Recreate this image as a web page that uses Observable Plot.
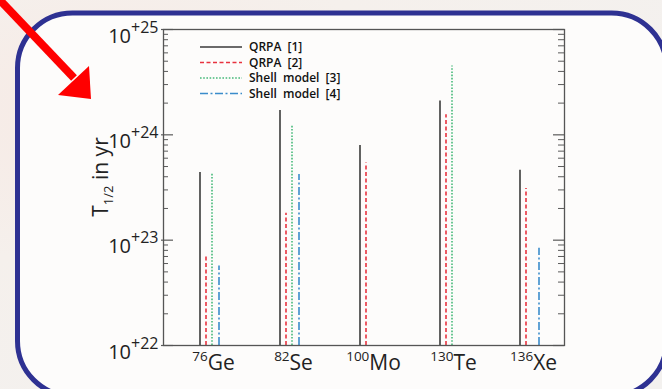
<!DOCTYPE html>
<html>
<head>
<meta charset="utf-8">
<script src="https://cdn.jsdelivr.net/npm/d3@7"></script>
<script src="https://cdn.jsdelivr.net/npm/@observablehq/plot@0.6"></script>
<style>
  html, body { margin: 0; padding: 0; background: #f4efea; }
  #wrap { position: relative; width: 662px; height: 389px; overflow: hidden;
          background: radial-gradient(ellipse at 20% 30%, #f7e9e4 0%, #f5f0ec 40%, #f3f1ef 100%); }
  #deco, #arrow { position: absolute; left: 0; top: 0; }
  #chart { position: absolute; left: 0; top: 0; }
  #chart svg { display: block; }
</style>
</head>
<body>
<div id="wrap">
  <svg id="deco" width="662" height="389">
    <rect x="17.5" y="13" width="649" height="383" rx="55" ry="55" fill="#fdfcfb" stroke="#2e3192" stroke-width="5"></rect>
  </svg>
  <div id="chart"></div>
  <svg id="arrow" width="662" height="389">
    <line x1="-4" y1="-4" x2="74" y2="78" stroke="#ff0000" stroke-width="8"></line>
    <polygon points="91,99 58,95 89,66" fill="#ff0000"></polygon>
  </svg>
</div>
<script>
// ---- data ----
const nuclei = ["76Ge", "82Se", "100Mo", "130Te", "136Xe"];
const seriesNames = ["QRPA [1]", "QRPA [2]", "Shell model [3]", "Shell model [4]"];
const qrpa1  = [4.4e23, 1.7e24, 7.9e23, 2.1e24, 4.6e23];
const qrpa2  = [7.3e22, 1.8e23, 5.4e23, 1.55e24, 3.1e23];
const shell3 = [4.3e23, 1.23e24, null, 4.5e24, null];
const shell4 = [5.7e22, 4.2e23, null, null, 8.4e22];
const yTickExponents = [22, 23, 24, 25];
const yTitle = ["T", "1/2", " in yr"];

// ---- styles ----
const seriesStyles = [
  {stroke: "#3a3a3a", dash: null,       dx: -9.5},
  {stroke: "#e8323f", dash: "4,2.5",    dx: -3.5},
  {stroke: "#46b97a", dash: "1.6,1.6",  dx: 2.5},
  {stroke: "#3b8ccb", dash: "8,2.5,2,2.5", dx: 9.5}
];

const W = 662, H = 389;
const mL = 163, mR = 98, mT = 29, mB = 44;
const plotW = W - mL - mR;

const allSeries = [qrpa1, qrpa2, shell3, shell4];
const table = allSeries.flatMap((vals, j) =>
  vals.map((v, i) => ({nucleus: nuclei[i], series: seriesNames[j], value: v}))
).filter(d => d.value != null);

const yDomain = [10 ** yTickExponents[0], 10 ** yTickExponents[yTickExponents.length - 1]];
const baseline = yDomain[0];
const majorVals = yTickExponents.map(e => 10 ** e);
const minorVals = yTickExponents.slice(0, -1).flatMap(e => d3.range(2, 10).map(k => k * 10 ** e));

const tickStroke = "#5a5a5a";

const chart = Plot.plot({
  width: W,
  height: H,
  marginLeft: mL,
  marginRight: mR,
  marginTop: mT,
  marginBottom: mB,
  style: {fontFamily: "'Open Sans', sans-serif", background: "transparent", color: "#222"},
  x: {type: "point", domain: nuclei, padding: 0.4907, align: 0.563, axis: null},
  y: {type: "log", domain: yDomain, axis: null},
  marks: [
    ...seriesStyles.map((st, j) =>
      Plot.ruleX(table.filter(d => d.series === seriesNames[j]), {
        x: "nucleus", y1: () => baseline, y2: "value", dx: st.dx,
        stroke: st.stroke, strokeWidth: 1.6, strokeDasharray: st.dash
      })
    ),
    Plot.ruleY(majorVals, {y: d => d, insetLeft: -2, insetRight: plotW - 10, stroke: tickStroke, strokeWidth: 1.2}),
    Plot.ruleY(majorVals, {y: d => d, insetLeft: plotW - 11, insetRight: 0, stroke: tickStroke, strokeWidth: 1.2}),
    Plot.ruleY(minorVals, {y: d => d, insetLeft: 0, insetRight: plotW - 5, stroke: tickStroke, strokeWidth: 1}),
    Plot.ruleY(minorVals, {y: d => d, insetLeft: plotW - 6, insetRight: 0, stroke: tickStroke, strokeWidth: 1}),
    Plot.frame({stroke: "#555", strokeWidth: 1.3}),
    Plot.text(yTickExponents, {y: e => 10 ** e, frameAnchor: "left", textAnchor: "end", dx: -5,
      text: e => "10+" + e, fontSize: 20, fill: "#222"}),
    Plot.text(nuclei, {x: d => d, frameAnchor: "bottom", dx: 4, text: d => d, fontSize: 21, fill: "#222"})
  ]
});

document.getElementById("chart").appendChild(chart);

const svg = d3.select(chart.tagName.toLowerCase() === "svg" ? chart : chart.querySelector("svg"));
svg.selectAll("text").each(function () {
  const t = this.textContent;
  const sel = d3.select(this);
  let m;
  if ((m = /^10\+(\d+)$/.exec(t))) {
    const yAttr = sel.attr("y");
    if (yAttr && /em$/.test(yAttr)) sel.attr("y", null);
    sel.attr("dy", null).text(null);
    sel.append("tspan").attr("dy", 13).style("font-size", "20px").text("10");
    sel.append("tspan").attr("dy", -10).style("font-size", "16px").text("+" + m[1]);
  } else if ((m = /^(\d+)([A-Z][a-z]?)$/.exec(t))) {
    const yAttr = sel.attr("y");
    if (yAttr && /em$/.test(yAttr)) sel.attr("y", null);
    sel.attr("dy", null).text(null);
    sel.append("tspan").attr("dy", 15).style("font-size", "13.5px").text(m[1]);
    sel.append("tspan").attr("dy", 9).style("font-size", "21px").text(m[2]);
  }
});

// ---- y title ----
const yt = svg.append("text")
  .attr("transform", `translate(108,${mT + 148}) rotate(-90)`)
  .attr("text-anchor", "middle")
  .attr("font-family", "'Open Sans', sans-serif")
  .style("font-size", "21px")
  .attr("fill", "#222");
yt.append("tspan").text(yTitle[0]);
yt.append("tspan").style("font-size", "13px").attr("dy", 5).text(yTitle[1]);
yt.append("tspan").attr("dy", -5).text(yTitle[2]);

// ---- legend ----
const lg = svg.append("g")
  .attr("font-family", "'Open Sans', sans-serif")
  .attr("text-anchor", "start")
  .style("font-size", "12px")
  .attr("font-weight", 600)
  .attr("fill", "#111");
seriesNames.forEach((name, j) => {
  const y = mT + 18 + j * 15.5;
  lg.append("line")
    .attr("x1", mL + 37).attr("x2", mL + 79)
    .attr("y1", y).attr("y2", y)
    .attr("stroke", seriesStyles[j].stroke)
    .attr("stroke-width", 1.4)
    .attr("stroke-dasharray", seriesStyles[j].dash);
  lg.append("text")
    .attr("x", mL + 86).attr("y", y).attr("dy", "0.35em")
    .attr("text-anchor", "start")
    .attr("word-spacing", 3)
    .text(name);
});
</script>
</body>
</html>
